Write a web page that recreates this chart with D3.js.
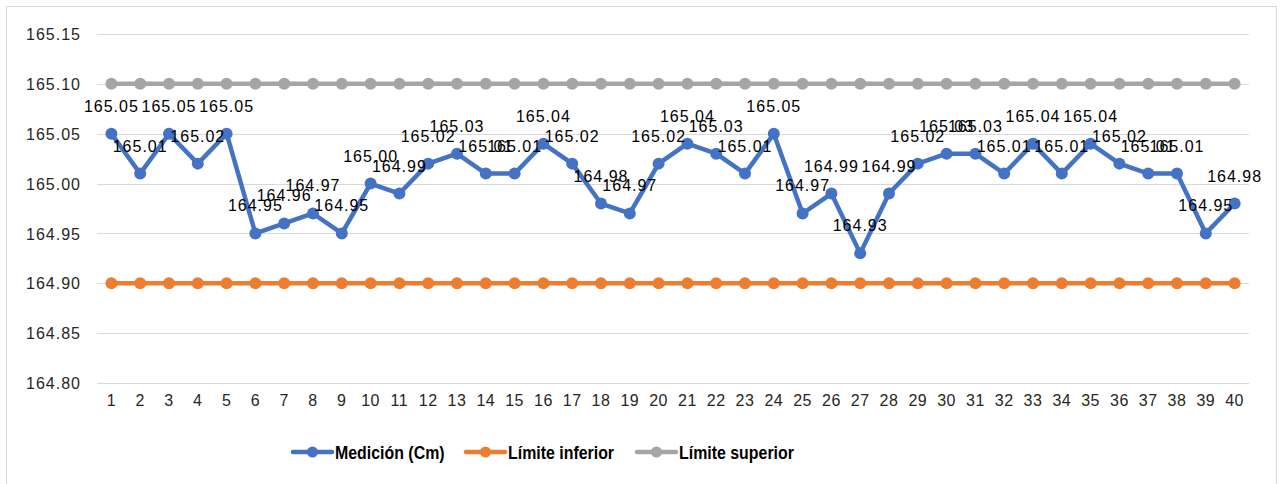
<!DOCTYPE html>
<html><head><meta charset="utf-8">
<script src="https://cdn.jsdelivr.net/npm/d3@7"></script>
<style>body{margin:0;background:#fff;}svg{display:block;font-family:"Liberation Sans",Arial,sans-serif;}</style>
</head><body>
<svg id="c" width="1282" height="484"></svg>
<script>
const categories = d3.range(1, 41).map(String);
const medicion = [165.05,165.01,165.05,165.02,165.05,164.95,164.96,164.97,164.95,165.00,
  164.99,165.02,165.03,165.01,165.01,165.04,165.02,164.98,164.97,165.02,
  165.04,165.03,165.01,165.05,164.97,164.99,164.93,164.99,165.02,165.03,
  165.03,165.01,165.04,165.01,165.04,165.02,165.01,165.01,164.95,164.98];
const limiteInferior = categories.map(() => 164.90);
const limiteSuperior = categories.map(() => 165.10);
const yTicks = [164.80,164.85,164.90,164.95,165.00,165.05,165.10,165.15];
const seriesNames = ["Medición (Cm)", "Límite inferior", "Límite superior"];
const colors = ["#4472C4", "#ED7D31", "#A5A5A5"];

const svg = d3.select("#c");
svg.append("rect").attr("x",6.5).attr("y",6.5).attr("width",1270).attr("height",490)
  .attr("fill","#fff").attr("stroke","#D9D9D9").attr("stroke-width",1);

const x = d3.scaleBand().domain(categories).range([97, 1249]);
const y = d3.scaleLinear().domain([164.80, 165.15]).range([383, 34]);
const cx = d => x(d) + x.bandwidth()/2;

// gridlines
svg.append("g").selectAll("line").data(yTicks).join("line")
  .attr("x1",97).attr("x2",1249).attr("y1",d=>Math.round(y(d))+0.5).attr("y2",d=>Math.round(y(d))+0.5)
  .attr("stroke","#D9D9D9").attr("stroke-width",1);

// y axis
const yAxis = d3.axisLeft(y).tickValues(yTicks).tickFormat(d3.format(".2f")).tickSize(0).tickPadding(0);
const gy = svg.append("g").attr("transform","translate(81,0)").call(yAxis);
gy.select(".domain").remove();
gy.selectAll("text").attr("font-size",16).attr("fill","#262626").attr("letter-spacing","1px")
  .attr("font-family","'Liberation Sans',Arial,sans-serif").attr("dy","0.35em");

// x axis
const xAxis = d3.axisBottom(x).tickSize(0).tickPadding(0);
const gx = svg.append("g").attr("transform","translate(0,393)").call(xAxis);
gx.select(".domain").remove();
gx.selectAll("text").attr("font-size",16).attr("fill","#262626").attr("letter-spacing","0.5px")
  .attr("font-family","'Liberation Sans',Arial,sans-serif").attr("dy","0.8em");

const line = d3.line().x((d,i)=>cx(categories[i])).y(d=>y(d));
const allSeries = [medicion, limiteInferior, limiteSuperior];
[2,1,0].forEach(k => {
  const data = allSeries[k];
  const g = svg.append("g");
  g.append("path").attr("d", line(data)).attr("fill","none").attr("stroke",colors[k])
    .attr("stroke-width",4.5).attr("stroke-linejoin","round").attr("stroke-linecap","round");
  g.selectAll("circle").data(data).join("circle")
    .attr("cx",(d,i)=>cx(categories[i])).attr("cy",d=>y(d)).attr("r",6).attr("fill",colors[k]);
});

// data labels
svg.append("g").selectAll("text").data(medicion).join("text")
  .attr("x",(d,i)=>cx(categories[i])).attr("y",d=>y(d)-22)
  .attr("text-anchor","middle").attr("font-size",16).attr("letter-spacing","1px")
  .attr("fill","#000").text(d=>d3.format(".2f")(d));

// legend
const legendX = [293, 466, 637];
const lg = svg.append("g").attr("transform","translate(0,452)");
seriesNames.forEach((name,k) => {
  const g = lg.append("g").attr("transform",`translate(${legendX[k]},0)`);
  g.append("line").attr("x1",0).attr("x2",39).attr("y1",0).attr("y2",0)
    .attr("stroke",colors[k]).attr("stroke-width",4.5).attr("stroke-linecap","round");
  g.append("circle").attr("cx",19.5).attr("cy",0).attr("r",5.5).attr("fill",colors[k]);
  g.append("text").attr("transform","translate(42,0) scale(0.86,1)").attr("dy","0.36em")
    .attr("font-size",18.5).attr("font-weight","bold").attr("fill","#000").text(name);
});
</script>
</body></html>
